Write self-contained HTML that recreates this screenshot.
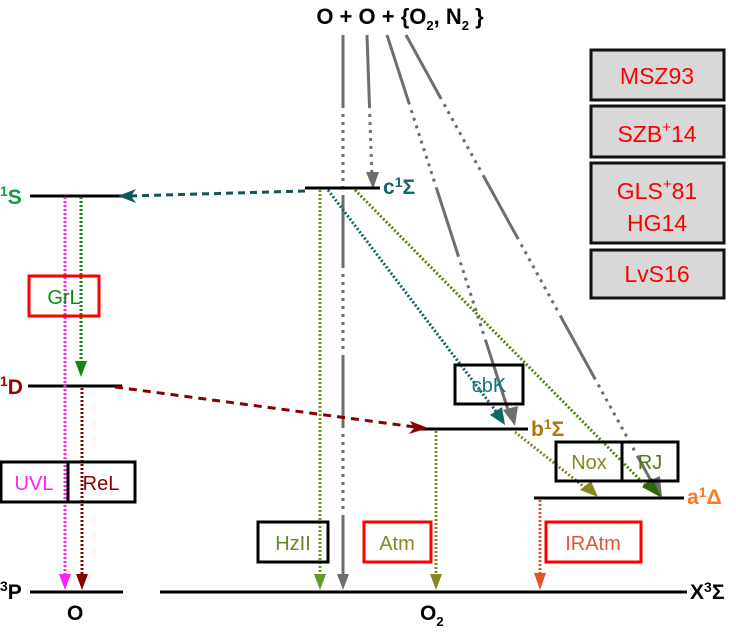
<!DOCTYPE html>
<html><head><meta charset="utf-8"><style>
html,body{margin:0;padding:0;background:#fff;}
svg{display:block;font-family:"Liberation Sans",sans-serif;}
</style></head><body>
<svg width="736" height="632" viewBox="0 0 736 632" xmlns="http://www.w3.org/2000/svg">
<!-- Title -->
<text x="400" y="24" font-size="22" font-weight="bold" text-anchor="middle">O + O + {O<tspan font-size="13" dy="6">2</tspan><tspan dy="-6">, N</tspan><tspan font-size="13" dy="6">2</tspan><tspan dy="-6"> }</tspan></text>

<!-- Gray recombination lines -->
<g stroke="#6e6e6e" stroke-width="3" fill="none" stroke-dasharray="73 6 3 5 3 5 3 5 3 5 3 5 3 5 3 5 3 5 3 5 3 6">
<line x1="343" y1="35" x2="343" y2="578"/>
<line x1="367" y1="35" x2="372" y2="178"/>
<line x1="387" y1="35" x2="510" y2="416"/>
<line x1="406" y1="35" x2="655" y2="488"/>
</g>
<g fill="#6e6e6e">
<polygon points="337,574 349,574 343,590"/>
<polygon points="366,172 379,172 373,189"/>
<polygon points="503,410 518,406 515,426"/>
<polygon points="646,482 660,476 662,498"/>
</g>

<!-- Level lines -->
<g stroke="#000" stroke-width="3">
<line x1="30" y1="196" x2="125" y2="196"/>
<line x1="28" y1="386" x2="122" y2="386"/>
<line x1="30" y1="592" x2="123" y2="592"/>
<line x1="305" y1="188" x2="380" y2="188"/>
<line x1="415" y1="429" x2="528" y2="429"/>
<line x1="534" y1="498" x2="684" y2="498"/>
<line x1="160" y1="592" x2="687" y2="592"/>
</g>

<!-- Transitions -->
<g fill="none" stroke-width="3">
<line x1="305" y1="191" x2="128" y2="196" stroke="#115555" stroke-dasharray="7 5"/>
<line x1="115" y1="387" x2="415" y2="427" stroke="#880000" stroke-dasharray="8 6"/>
<line x1="328" y1="190" x2="498" y2="414" stroke="#116666" stroke-dasharray="2 2"/>
<line x1="355" y1="190" x2="648" y2="488" stroke="#558811" stroke-dasharray="2 2"/>
<line x1="515" y1="432" x2="588" y2="490" stroke="#888822" stroke-dasharray="2 2"/>
<line x1="320" y1="190" x2="320" y2="576" stroke="#66992a" stroke-dasharray="2 2"/>
<line x1="436" y1="431" x2="436" y2="576" stroke="#888822" stroke-dasharray="2 2"/>
<line x1="540" y1="500" x2="540" y2="576" stroke="#e05522" stroke-dasharray="2 2"/>
<line x1="81" y1="197" x2="81" y2="372" stroke="#118811" stroke-dasharray="2 2"/>
<line x1="65" y1="197" x2="65" y2="576" stroke="#ff22ee" stroke-dasharray="2 2"/>
<line x1="82" y1="388" x2="82" y2="576" stroke="#880000" stroke-dasharray="2 2"/>
</g>
<polygon points="118,196 136,189 131,196 136,203" fill="#115555"/>
<polygon points="428,428 410,421 414,428 409,434" fill="#880000"/>
<polygon points="490,415 502,407 505,425" fill="#116666"/>
<polygon points="642,487 652,478 662,498" fill="#336600"/>
<polygon points="580,490 591,481 598,497" fill="#888822"/>
<polygon points="314,574 326,574 320,590" fill="#66992a"/>
<polygon points="430,574 442,574 436,590" fill="#888822"/>
<polygon points="534,573 546,573 540,590" fill="#e05522"/>
<polygon points="75,361 87,361 81,377" fill="#118811"/>
<polygon points="59,574 71,574 65,590" fill="#ff22ee"/>
<polygon points="76,574 88,574 82,590" fill="#880000"/>

<!-- Level labels -->
<g font-weight="bold" font-size="21">
<text x="0" y="204" fill="#119944"><tspan font-size="14" dy="-8">1</tspan><tspan dy="8">S</tspan></text>
<text x="0" y="394" fill="#990000"><tspan font-size="14" dy="-8">1</tspan><tspan dy="8">D</tspan></text>
<text x="0" y="599" fill="#000"><tspan font-size="14" dy="-8">3</tspan><tspan dy="8">P</tspan></text>
<text x="383" y="194" fill="#116666">c<tspan font-size="14" dy="-7">1</tspan><tspan dy="7">Σ</tspan></text>
<text x="531" y="436" fill="#aa7711">b<tspan font-size="14" dy="-7">1</tspan><tspan dy="7">Σ</tspan></text>
<text x="687" y="504" fill="#ff7722">a<tspan font-size="14" dy="-7">1</tspan><tspan dy="7">Δ</tspan></text>
<text x="690" y="599" fill="#000">X<tspan font-size="14" dy="-7">3</tspan><tspan dy="7">Σ</tspan></text>
<text x="67" y="620" fill="#000">O</text>
<text x="420" y="620" fill="#000">O<tspan font-size="13" dy="6">2</tspan></text>
</g>

<!-- Boxes -->
<g fill="none" stroke-width="3">
<rect x="29" y="276" width="70" height="40" stroke="#ff0000"/>
<rect x="1" y="462" width="67" height="40" stroke="#000"/>
<rect x="68" y="462" width="67" height="40" stroke="#000"/>
<rect x="258" y="522" width="70" height="40" stroke="#000"/>
<rect x="364" y="522" width="67" height="40" stroke="#ff0000"/>
<rect x="546" y="522" width="95" height="40" stroke="#ff0000"/>
<rect x="455" y="365" width="68" height="39" stroke="#000"/>
<rect x="556" y="442" width="66" height="39" stroke="#000"/>
<rect x="622" y="442" width="56" height="39" stroke="#000"/>
</g>
<g font-size="20" text-anchor="middle">
<text x="64" y="304" fill="#118811">GrL</text>
<text x="34" y="490" fill="#ff22ee">UVL</text>
<text x="101" y="490" fill="#880000">ReL</text>
<text x="293" y="550" fill="#66882a">HzII</text>
<text x="397" y="550" fill="#888822">Atm</text>
<text x="593" y="550" fill="#e05533">IRAtm</text>
<text x="489" y="392" fill="#117777">cbK</text>
<text x="589" y="469" fill="#888822">Nox</text>
<text x="650" y="469" fill="#557711">RJ</text>
</g>

<!-- Reference boxes -->
<g fill="#d8d8d8" stroke="#111" stroke-width="3">
<rect x="591" y="50" width="133" height="50"/>
<rect x="591" y="106" width="133" height="51"/>
<rect x="591" y="163" width="133" height="80"/>
<rect x="591" y="250" width="133" height="48"/>
</g>
<g font-size="23" fill="#ff0000" text-anchor="middle">
<text x="657" y="84">MSZ93</text>
<text x="657" y="142">SZB<tspan font-size="15" dy="-10">+</tspan><tspan dy="10">14</tspan></text>
<text x="657" y="199">GLS<tspan font-size="15" dy="-10">+</tspan><tspan dy="10">81</tspan></text>
<text x="657" y="231">HG14</text>
<text x="657" y="282">LvS16</text>
</g>
</svg>
</body></html>
